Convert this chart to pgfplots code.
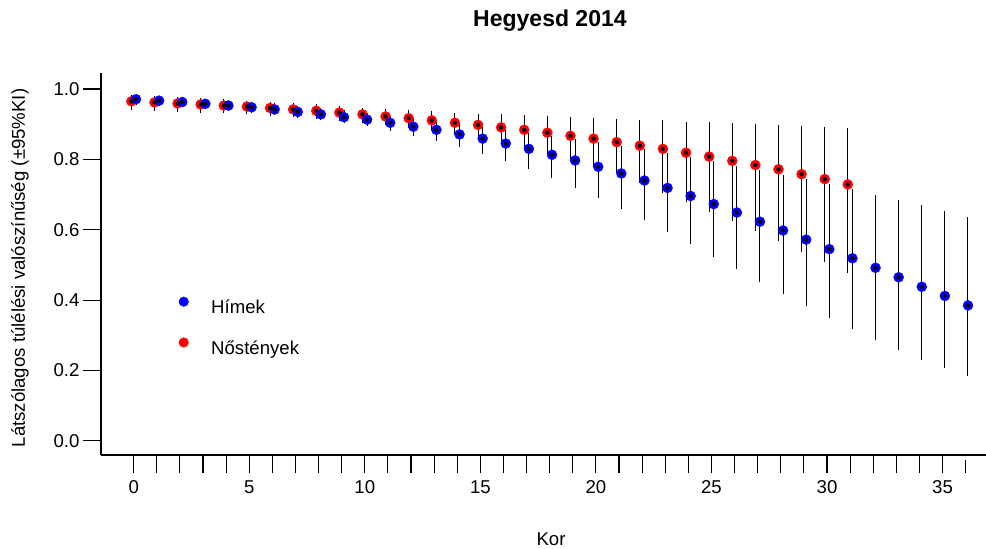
\documentclass[border=0pt]{standalone}
\usepackage{pgfplots}
\pgfplotsset{compat=1.18}
\usepackage{pgfplotstable}
\usepackage{fontspec}
\setmainfont{Liberation Sans}

% females (red), plotted at age - 0.1
\pgfplotstableread{
x y lo hi
-0.1 0.965 0.940 0.984
0.9 0.962 0.938 0.981
1.9 0.959 0.936 0.978
2.9 0.956 0.933 0.975
3.9 0.953 0.931 0.972
4.9 0.950 0.928 0.966
5.9 0.946 0.924 0.962
6.9 0.942 0.920 0.959
7.9 0.938 0.915 0.956
8.9 0.933 0.910 0.951
9.9 0.928 0.904 0.947
10.9 0.922 0.897 0.942
11.9 0.917 0.890 0.939
12.9 0.911 0.880 0.937
13.9 0.904 0.869 0.933
14.9 0.898 0.858 0.930
15.9 0.891 0.843 0.928
16.9 0.884 0.828 0.926
17.9 0.876 0.814 0.922
18.9 0.867 0.798 0.920
19.9 0.859 0.781 0.918
20.9 0.849 0.762 0.916
21.9 0.839 0.733 0.913
22.9 0.830 0.704 0.911
23.9 0.819 0.678 0.907
24.9 0.808 0.651 0.905
25.9 0.796 0.624 0.902
26.9 0.784 0.596 0.900
27.9 0.772 0.567 0.897
28.9 0.758 0.538 0.895
29.9 0.744 0.508 0.892
30.9 0.729 0.478 0.889
}\female

% males (blue), plotted at age + 0.1
\pgfplotstableread{
x y lo hi
0.1 0.971 0.955 0.982
1.1 0.967 0.952 0.978
2.1 0.963 0.948 0.976
3.1 0.958 0.942 0.972
4.1 0.953 0.937 0.969
5.1 0.948 0.931 0.964
6.1 0.942 0.925 0.959
7.1 0.935 0.918 0.953
8.1 0.928 0.911 0.947
9.1 0.920 0.904 0.941
10.1 0.913 0.894 0.933
11.1 0.904 0.882 0.923
12.1 0.893 0.867 0.915
13.1 0.884 0.852 0.907
14.1 0.871 0.835 0.900
15.1 0.859 0.815 0.892
16.1 0.845 0.795 0.884
17.1 0.830 0.772 0.875
18.1 0.813 0.748 0.866
19.1 0.797 0.720 0.858
20.1 0.779 0.689 0.848
21.1 0.760 0.659 0.838
22.1 0.740 0.627 0.829
23.1 0.719 0.593 0.817
24.1 0.696 0.559 0.806
25.1 0.673 0.524 0.795
26.1 0.649 0.488 0.781
27.1 0.623 0.452 0.770
28.1 0.598 0.417 0.757
29.1 0.572 0.382 0.744
30.1 0.545 0.349 0.729
31.1 0.519 0.317 0.715
32.1 0.492 0.287 0.700
33.1 0.465 0.258 0.685
34.1 0.438 0.231 0.669
35.1 0.412 0.207 0.653
36.1 0.385 0.184 0.636
}\male

\begin{document}
\begin{tikzpicture}[x=1pt,y=1pt]
\useasboundingbox (0,0) rectangle (986,549);
\begin{axis}[
  at={(101pt,94pt)}, anchor=south west,
  scale only axis, width=885pt, height=382pt,
  xmin=-1.415, xmax=36.88, ymin=-0.04, ymax=1.0455,
  clip=false,
  axis x line*=bottom, axis y line*=left,
  axis line style={line width=1.1pt, -},
  tick align=outside, major tick length=18pt,
  tick style={line width=1.1pt, black},
  xtick style={shorten >=5.5pt},
  xtick={0,...,36},
  xticklabels={0,,,,,5,,,,,10,,,,,15,,,,,20,,,,,25,,,,,30,,,,,35,},
  ytick={0,0.2,0.4,0.6,0.8,1.0},
  yticklabel style={/pgf/number format/.cd, fixed, fixed zerofill, precision=1},
  /pgf/number format/assume math mode=true,
  tick label style={font=\fontsize{18.6}{22}\selectfont},
  xticklabel shift=4pt,
  title={Hegyesd 2014},
  title style={font=\bfseries\fontsize{23}{27}\selectfont, at={(axis description cs:0.5073,1.1047)}, anchor=base},
  xlabel={Kor},
  xlabel style={font=\fontsize{18.6}{22}\selectfont, at={(axis description cs:0.5085,-0.2382)}, anchor=base},
  ylabel={Látszólagos túlélési valószínűség (±95\%KI)},
  ylabel style={font=\fontsize{18.6}{22}\selectfont, at={(axis description cs:-0.0915,0.4895)}, anchor=center, rotate=0},
  legend style={draw=none, fill=none, at={(axis description cs:0.0876,0.4150)}, anchor=north west,
    inner sep=0pt, row sep=20pt, column sep=22.5pt, font=\fontsize{18.6}{22}\selectfont,
    nodes={inner sep=0pt, text height=14pt, text depth=4pt}},
  legend cell align=left,
]
\addlegendimage{legend image code/.code={\fill[blue] (0pt,6.8pt) circle (4.8pt);}}
\addlegendentry{Hímek}
\addlegendimage{legend image code/.code={\fill[red] (0pt,6.8pt) circle (4.8pt);}}
\addlegendentry{Nőstények}

\addplot[forget plot, only marks, mark=*, mark size=5pt, red, mark options={draw=none, fill=red}]
  table[x=x, y=y] {\female};
\addplot[forget plot, only marks, mark=*, mark size=5pt, blue, mark options={draw=none, fill=blue}]
  table[x=x, y=y] {\male};

\addplot[forget plot, only marks, mark=none,
  error bars/.cd, y dir=both, y explicit, error mark=none,
  error bar style={draw=black, line width=1pt}]
  table[x=x, y=y, y error plus expr=\thisrow{hi}-\thisrow{y}, y error minus expr=\thisrow{y}-\thisrow{lo}] {\female};
\addplot[forget plot, only marks, mark=none,
  error bars/.cd, y dir=both, y explicit, error mark=none,
  error bar style={draw=black, line width=1pt}]
  table[x=x, y=y, y error plus expr=\thisrow{hi}-\thisrow{y}, y error minus expr=\thisrow{y}-\thisrow{lo}] {\male};
\end{axis}
\end{tikzpicture}
\end{document}
